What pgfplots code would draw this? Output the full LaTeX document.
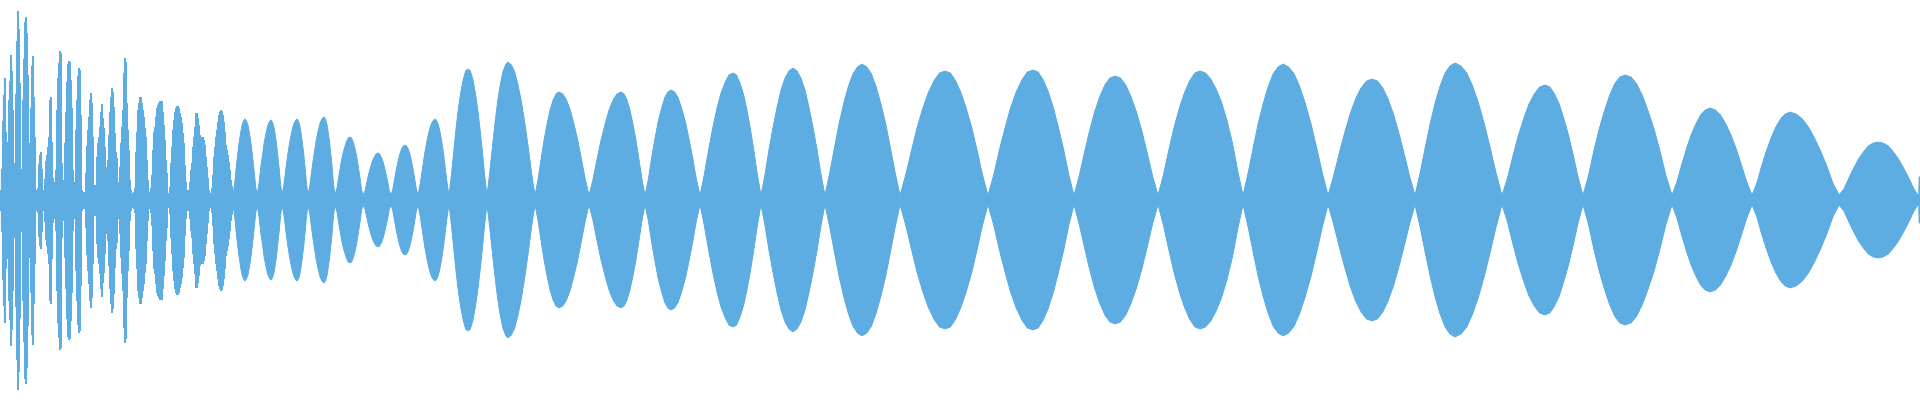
\documentclass[border=0pt]{standalone}
\usepackage{pgfplots}
\pgfplotsset{compat=1.18}
\usepackage{pgfplotstable}
\definecolor{wave}{HTML}{5DADE2}

% left part: per-column spike amplitudes (pixels from centre line)
\pgfplotstableread{
x a
0 10
1 31
2 79
3 105
4 122
5 68
6 40
7 58
8 100
9 119
10 145
11 129
12 90
13 37
14 27
15 106
16 159
17 189
18 171
19 117
20 31
21 31
22 100
23 141
24 178
25 183
26 167
27 125
28 28
29 57
30 92
31 134
32 144
33 103
34 63
35 10
36 8
37 12
38 36
39 45
40 48
41 31
42 10
43 3
44 21
45 39
46 45
47 53
48 63
49 100
50 103
51 58
52 22
53 7
54 18
55 30
56 90
57 122
58 137
59 149
60 147
61 37
62 20
63 15
64 57
65 88
66 118
67 136
68 139
69 138
70 120
71 92
72 30
73 18
74 18
75 70
76 100
77 124
78 132
79 130
80 85
81 10
82 7
83 8
84 7
85 27
86 54
87 70
88 83
89 100
90 107
91 97
92 63
93 15
94 13
95 15
96 43
97 57
98 63
99 73
100 88
101 96
102 82
103 72
104 53
105 33
106 10
107 40
108 65
109 88
110 103
111 112
112 108
113 93
114 67
115 48
116 42
117 18
118 10
119 33
120 57
121 73
122 90
123 127
124 142
125 138
126 97
127 70
128 50
129 20
130 10
131 7
132 7
133 8
134 12
135 48
136 68
137 90
138 97
139 103
140 103
141 97
142 90
143 83
144 72
145 63
146 40
147 20
148 7
149 8
150 12
151 25
152 50
153 68
154 73
155 83
156 92
157 95
158 97
159 99
160 98
161 99
162 88
163 75
164 60
165 40
166 27
167 7
168 5
169 13
170 37
171 53
172 70
173 80
174 88
175 92
176 94
177 94
178 92
179 87
180 83
181 77
182 67
183 57
184 35
185 18
186 10
187 8
188 10
189 18
190 30
191 37
192 53
193 63
194 73
195 87
196 87
197 82
198 75
199 65
200 62
201 63
202 63
203 60
204 55
205 43
206 33
207 22
208 10
209 7
210 5
211 12
212 25
213 43
214 53
215 63
216 70
217 78
218 85
219 88
220 90
221 89
222 85
223 78
224 68
225 55
226 50
227 45
228 38
229 30
230 20
231 14
232 8
233 4
}\lefttab

% right part: envelope of the beating lobes
\pgfplotstableread{
x a
233 5
234.5 16
236 31
237.5 45
239 57
240.5 67
242 75
243.5 79
245 81
246.5 79
248 75
249.5 67
251 57
252.5 45
254 31
255.5 16
257 5
258.8 16
260.5 31
262.3 44
264 57
265.8 66
267.5 74
269.3 78
271 80
272.4 78
273.8 74
275.1 66
276.5 57
277.9 44
279.3 31
280.6 16
282 5
283.9 16
285.8 31
287.6 45
289.5 57
291.4 67
293.3 75
295.1 79
297 81
298.4 79
299.8 75
301.1 67
302.5 57
303.9 45
305.3 31
306.6 16
308 5
310 16
312 32
314 46
316 59
318 69
320 77
322 81
324 83
325.4 81
326.8 77
328.1 69
329.5 59
330.9 46
332.3 32
333.6 16
335 5
336.9 12
338.8 24
340.6 35
342.5 45
344.4 52
346.3 58
348.1 62
350 63
351.6 62
353.3 58
354.9 52
356.5 45
358.1 35
359.8 24
361.4 12
363 5
364.9 9
366.8 18
368.6 26
370.5 33
372.4 39
374.3 43
376.1 46
378 47
379.6 46
381.3 43
382.9 39
384.5 33
386.1 26
387.8 18
389.4 9
391 5
392.8 11
394.5 21
396.3 31
398 39
399.8 46
401.5 51
403.3 54
405 55
406.6 54
408.3 51
409.9 46
411.5 39
413.1 31
414.8 21
416.4 11
418 5
420.1 16
422.3 31
424.4 45
426.5 57
428.6 67
430.8 75
432.9 79
435 81
436.8 79
438.5 75
440.3 67
442 57
443.8 45
445.5 31
447.3 16
449 5
451.4 26
453.8 50
456.1 73
458.5 93
460.9 109
463.3 121
465.6 129
468 131
470.4 129
472.8 121
475.1 109
477.5 93
479.9 73
482.3 50
484.6 26
487 5
489.6 27
492.3 53
494.9 77
497.5 98
500.1 115
502.8 128
505.4 135
508 138
511.4 135
514.8 128
518.1 115
521.5 98
524.9 77
528.3 53
531.6 27
535 5
538 21
541 41
544 60
547 76
550 90
553 100
556 106
559 108
562.8 106
566.5 100
570.3 90
574 76
577.8 60
581.5 41
585.3 21
589 5
593 21
597 41
601 60
605 76
609 90
613 100
617 106
621 108
624 106
627 100
630 90
633 76
636 60
639 41
642 21
645 5
648.3 21
651.5 42
654.8 61
658 78
661.3 91
664.5 102
667.8 108
671 110
674.6 108
678.3 102
681.9 91
685.5 78
689.1 61
692.8 42
696.4 21
700 5
704.1 25
708.3 49
712.4 71
716.5 90
720.6 106
724.8 117
728.9 125
733 127
736.5 125
740 117
743.5 106
747 90
750.5 71
754 49
757.5 25
761 5
765 26
769 51
773 73
777 93
781 110
785 122
789 129
793 132
797 129
801 122
805 110
809 93
813 73
817 51
821 26
825 5
829.6 27
834.3 52
838.9 76
843.5 96
848.1 113
852.8 126
857.4 133
862 136
866.8 133
871.5 126
876.3 113
881 96
885.8 76
890.5 52
895.3 27
900 5
905.6 25
911.3 49
916.9 72
922.5 91
928.1 107
933.8 119
939.4 127
945 129
950.4 127
955.8 119
961.1 107
966.5 91
971.9 72
977.3 49
982.6 25
988 5
993.6 25
999.3 50
1004.9 72
1010.5 92
1016.1 108
1021.8 120
1027.4 128
1033 130
1038.1 128
1043.3 120
1048.4 108
1053.5 92
1058.6 72
1063.8 50
1068.9 25
1074 5
1079.1 24
1084.3 47
1089.4 69
1094.5 88
1099.6 103
1104.8 115
1109.9 122
1115 124
1120.4 122
1125.8 115
1131.1 103
1136.5 88
1141.9 69
1147.3 47
1152.6 24
1158 5
1163.3 25
1168.5 49
1173.8 72
1179 91
1184.3 107
1189.5 119
1194.8 127
1200 129
1205.4 127
1210.8 121
1216.1 111
1221.5 98
1226.9 80
1232.3 58
1237.6 30
1243 5
1248 27
1253 52
1258 76
1263 96
1268 113
1273 126
1278 133
1283 136
1288.6 133
1294.3 126
1299.9 113
1305.5 96
1311.1 76
1316.8 52
1322.4 27
1328 5
1333.5 24
1339 46
1344.5 67
1350 86
1355.5 101
1361 112
1366.5 119
1372 121
1377.4 119
1382.8 112
1388.1 101
1393.5 86
1398.9 67
1404.3 46
1409.6 24
1415 5
1420 27
1425 52
1430 76
1435 97
1440 114
1445 127
1450 134
1455 137
1460.9 134
1466.8 127
1472.6 114
1478.5 97
1484.4 76
1490.3 52
1496.1 27
1502 5
1507.4 22
1512.8 44
1518.1 64
1523.5 81
1528.9 96
1534.3 106
1539.6 113
1545 115
1549.8 113
1554.5 106
1559.3 96
1564 81
1568.8 64
1573.5 44
1578.3 22
1583 5
1588.3 24
1593.5 48
1598.8 70
1604 88
1609.3 104
1614.5 116
1619.8 123
1625 125
1630.9 123
1636.8 116
1642.6 104
1648.5 88
1654.4 70
1660.3 48
1666.1 24
1672 5
1676.8 18
1681.5 35
1686.3 51
1691 65
1695.8 76
1700.5 85
1705.3 90
1710 92
1715.3 90
1720.5 85
1725.8 76
1731 65
1736.3 51
1741.5 35
1746.8 18
1752 5
1756.8 17
1761.5 34
1766.3 49
1771 62
1775.8 73
1780.5 81
1785.3 86
1790 88
1796.1 86
1802.3 81
1808.4 73
1814.5 62
1820.6 49
1826.8 34
1832.9 17
1839 5
1843.9 11
1848.8 22
1853.6 32
1858.5 41
1863.4 48
1868.3 54
1873.1 57
1878 58
1883.1 57
1888.3 54
1893.4 48
1898.5 41
1903.6 32
1908.8 22
1913.9 11
1918.6 4
1919 23
1920 23
}\righttab

\begin{document}
\begin{tikzpicture}
\begin{axis}[
  scale only axis,
  width=19.2cm, height=4cm,
  xmin=0, xmax=1920, ymin=-200, ymax=200,
  axis line style={draw=none},
  xtick=\empty, ytick=\empty,
  clip=true,
]
\addplot[const plot mark left, fill=wave, draw=wave, line width=0.2pt]
  table[x=x, y=a] {\lefttab} \closedcycle;
\addplot[const plot mark left, fill=wave, draw=wave, line width=0.2pt]
  table[x=x, y expr=-\thisrow{a}] {\lefttab} \closedcycle;
\addplot[fill=wave, draw=wave, line width=0.2pt]
  table[x=x, y=a] {\righttab} \closedcycle;
\addplot[fill=wave, draw=wave, line width=0.2pt]
  table[x=x, y expr=-\thisrow{a}] {\righttab} \closedcycle;
\end{axis}
\end{tikzpicture}
\end{document}
